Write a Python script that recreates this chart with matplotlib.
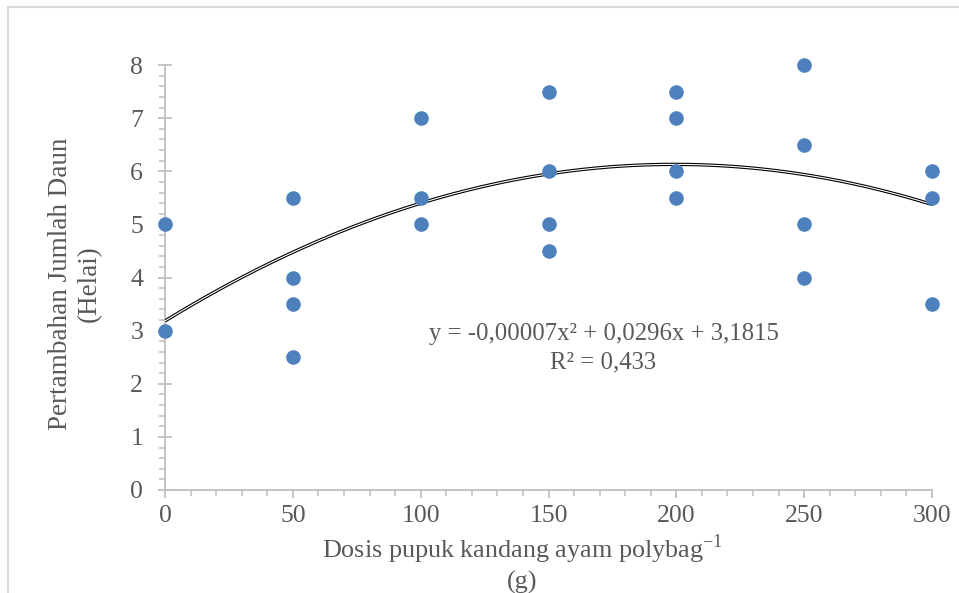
import numpy as np
import matplotlib
matplotlib.use("Agg")
import matplotlib.pyplot as plt
from matplotlib.ticker import MultipleLocator

plt.rcParams['font.family'] = ['Liberation Serif', 'DejaVu Serif']
plt.rcParams['mathtext.fontset'] = 'custom'
plt.rcParams['mathtext.rm'] = 'Liberation Serif'

# data
dose = [0, 0,
        50, 50, 50, 50,
        100, 100, 100,
        150, 150, 150, 150,
        200, 200, 200, 200,
        250, 250, 250, 250,
        300, 300, 300]
leaves = [5, 3,
          5.5, 4, 3.5, 2.5,
          7, 5.5, 5,
          7.5, 6, 5, 4.5,
          7.5, 7, 6, 5.5,
          8, 6.5, 5, 4,
          6, 5.5, 3.5]
trend_coef = [-0.0000743, 0.0296, 3.1815]
equation = "y = -0,00007x\u00b2 + 0,0296x + 3,1815"
r2_text = "R\u00b2 = 0,433"
xlabel_line1 = r"Dosis pupuk kandang ayam polybag$^{\mathrm{-1}}$"
xlabel_line2 = "(g)"
ylabel_text = "Pertambahan Jumlah Daun\n(Helai)"
xticks = [0, 50, 100, 150, 200, 250, 300]
yticks = [0, 1, 2, 3, 4, 5, 6, 7, 8]

W, H = 959, 593
fig = plt.figure(figsize=(W / 100, H / 100), dpi=100)
ax = fig.add_axes([165 / W, (H - 490) / H, (932 - 165) / W, (490 - 65) / H])

axis_col = '#BFBFBF'
txt_col = '#595959'

xs = np.linspace(0, 300, 300)
ys = np.polyval(trend_coef, xs)
ax.plot(xs, ys, color='black', lw=2.4, solid_capstyle='butt', zorder=3)
ax.plot(xs, ys, color='white', lw=0.8, solid_capstyle='butt', zorder=4)

ax.plot(dose, leaves, 'o', color='#4E80BD', markersize=10.5, markeredgewidth=0,
        zorder=5, clip_on=False)

ax.set_xlim(0, 300)
ax.set_ylim(0, 8)
for s in ['top', 'right']:
    ax.spines[s].set_visible(False)
for s in ['left', 'bottom']:
    ax.spines[s].set_color(axis_col)
    ax.spines[s].set_linewidth(1.3)

ax.set_xticks(xticks)
ax.set_yticks(yticks)
ax.xaxis.set_minor_locator(MultipleLocator(10))
ax.yaxis.set_minor_locator(MultipleLocator(0.2))
ax.tick_params(axis='x', which='major', direction='out', length=5.5, width=1.3,
               color=axis_col, labelcolor=txt_col, labelsize=18.5, pad=5.5)
ax.tick_params(axis='x', which='minor', direction='out', length=4, width=1.1, color=axis_col)
ax.tick_params(axis='y', which='major', direction='inout', length=10.5, width=1.3,
               color=axis_col, labelcolor=txt_col, labelsize=18.5, pad=10.5)
ax.tick_params(axis='y', which='minor', direction='out', length=4.5, width=1.1, color=axis_col)

fig.text(603.5 / W, 1 - 334 / H, equation, ha='center', va='center', fontsize=17.8, color=txt_col)
fig.text(603.5 / W, 1 - 362 / H, r2_text, ha='center', va='center', fontsize=17.8, color=txt_col)

fig.text(522 / W, 1 - 549 / H, xlabel_line1, ha='center', va='center', fontsize=18.8, color=txt_col)
fig.text(522 / W, 1 - 582 / H, xlabel_line2, ha='center', va='center', fontsize=18.8, color=txt_col)
fig.text(74.5 / W, 1 - 284 / H, ylabel_text, ha='center', va='center', rotation=90,
         fontsize=19.5, color=txt_col, linespacing=1.2)

# chart border (top and left visible)
fig.add_artist(plt.Line2D([8 / W, 1], [1 - 7 / H, 1 - 7 / H], color='#D9D9D9', lw=1.5,
                          transform=fig.transFigure))
fig.add_artist(plt.Line2D([8 / W, 8 / W], [0, 1 - 7 / H], color='#D9D9D9', lw=1.5,
                          transform=fig.transFigure))

fig.savefig('out.png', dpi=100)
